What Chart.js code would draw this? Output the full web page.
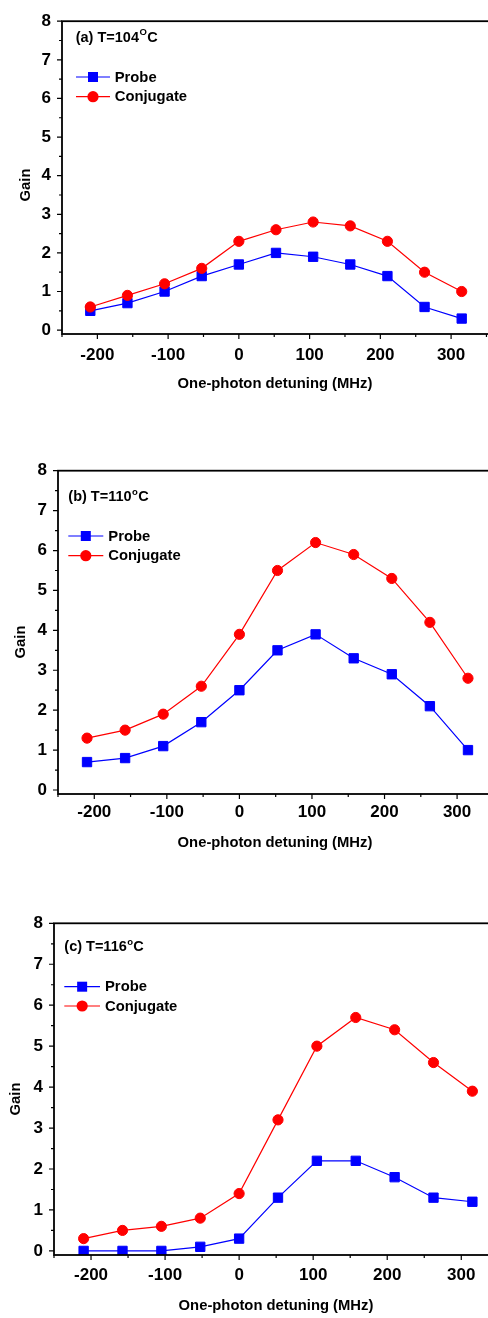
<!DOCTYPE html>
<html>
<head>
<meta charset="utf-8">
<script src="https://cdn.jsdelivr.net/npm/chart.js@4"></script>
<style>
  html, body { margin: 0; padding: 0; background: #fff; }
  body { width: 488px; height: 1318px; overflow: hidden; position: relative; }
  canvas { position: absolute; left: 0; }
</style>
</head>
<body>
<canvas id="chartA" width="510" height="440" style="top:0px"></canvas>
<canvas id="chartB" width="510" height="440" style="top:440px"></canvas>
<canvas id="chartC" width="510" height="438" style="top:880px"></canvas>
<script>
// One-photon detuning (MHz), same points in every panel
const detuning = [-210, -157.5, -105, -52.5, 0, 52.5, 105, 157.5, 210, 262.5, 315];

// (a) T=104 C
const probeA = [0.5, 0.7, 1.0, 1.4, 1.7, 2.0, 1.9, 1.7, 1.4, 0.6, 0.3];
const conjA = [0.6, 0.9, 1.2, 1.6, 2.3, 2.6, 2.8, 2.7, 2.3, 1.5, 1.0];
// (b) T=110 C
const probeB = [0.7, 0.8, 1.1, 1.7, 2.5, 3.5, 3.9, 3.3, 2.9, 2.1, 1.0];
const conjB = [1.3, 1.5, 1.9, 2.6, 3.9, 5.5, 6.2, 5.9, 5.3, 4.2, 2.8];
// (c) T=116 C
const probeC = [0.0, 0.0, 0.0, 0.1, 0.3, 1.3, 2.2, 2.2, 1.8, 1.3, 1.2];
const conjC = [0.3, 0.5, 0.6, 0.8, 1.4, 3.2, 5.0, 5.7, 5.4, 4.6, 3.9];

// Axis ticks
const xTicks = [-200, -100, 0, 100, 200, 300];
const xMinorTicks = [-250, -150, -50, 50, 150, 250, 350];
const yTicks = [0, 1, 2, 3, 4, 5, 6, 7, 8];
const yMinorTicks = [0.5, 1.5, 2.5, 3.5, 4.5, 5.5, 6.5, 7.5];

const seriesNames = ["Probe", "Conjugate"];
const panelLabels = ["(a) T=104", "(b) T=110", "(c) T=116"];
const degreeMarks = ["O", "o", "o"];
const xTitle = "One-photon detuning (MHz)";
const yTitle = "Gain";

const FONT = "'Liberation Sans', Arial, Helvetica, sans-serif";
const BLUE = "#0000ff";
const RED = "#ff0000";

// Panel placement inside each canvas (canvas-local pixels)
const panels = [
  {
    id: "chartA", probe: probeA, conj: conjA, h: 440,
    area: { left: 62, top: 14, bottom: 334, right: 490 }, tickPad: 10.8,
    note: { x: 75.7, y: 37.7 },
    legend: { x1: 76, x2: 110, y: 77, dy: 19.7, tx: 114.7 },
    yT: { x: 26, y: 185 }, xT: { x: 275, y: 384 },
  },
  {
    id: "chartB", probe: probeB, conj: conjB, h: 440,
    area: { left: 58, top: 30.7, bottom: 354, right: 497 }, tickPad: 8.5,
    note: { x: 68.3, y: 57.3 },
    legend: { x1: 68.3, x2: 103.3, y: 96, dy: 19.7, tx: 108.3 },
    yT: { x: 20.7, y: 202 }, xT: { x: 275, y: 403 },
  },
  {
    id: "chartC", probe: probeC, conj: conjC, h: 438,
    area: { left: 54, top: 43.3, bottom: 375, right: 502 }, tickPad: 9.8,
    note: { x: 64.3, y: 67.3 },
    legend: { x1: 64.3, x2: 100, y: 106.7, dy: 19.3, tx: 105 },
    yT: { x: 16, y: 219 }, xT: { x: 276, y: 426 },
  },
];

const X_SCALE_H = 30;

// Frame, minor/major tick marks, annotation, legend and axis titles
const decorPlugin = {
  id: "decor",
  afterDraw(chart) {
    const p = chart.options.plugins.decor;
    const ctx = chart.ctx;
    const a = chart.chartArea;
    const xs = chart.scales.x;
    const ys = chart.scales.y;
    ctx.save();

    // frame
    ctx.strokeStyle = "#000";
    ctx.lineWidth = 1.8;
    ctx.strokeRect(a.left, a.top, a.right - a.left, a.bottom - a.top);

    // ticks (outward on left and bottom)
    ctx.lineWidth = 1.2;
    ctx.beginPath();
    xTicks.forEach((v) => {
      const px = xs.getPixelForValue(v);
      ctx.moveTo(px, a.bottom); ctx.lineTo(px, a.bottom + 5);
    });
    xMinorTicks.forEach((v) => {
      const px = xs.getPixelForValue(v);
      ctx.moveTo(px, a.bottom); ctx.lineTo(px, a.bottom + 3);
    });
    yTicks.forEach((v) => {
      const py = ys.getPixelForValue(v);
      ctx.moveTo(a.left, py); ctx.lineTo(a.left - 5, py);
    });
    yMinorTicks.forEach((v) => {
      const py = ys.getPixelForValue(v);
      ctx.moveTo(a.left, py); ctx.lineTo(a.left - 3, py);
    });
    ctx.stroke();

    // panel annotation with superscript degree mark
    ctx.fillStyle = "#000";
    ctx.textBaseline = "middle";
    ctx.textAlign = "left";
    ctx.font = "bold 14.5px " + FONT;
    const main = panelLabels[p.index];
    ctx.fillText(main, p.note.x, p.note.y);
    let cx = p.note.x + ctx.measureText(main).width + 0.5;
    ctx.font = "bold 9.5px " + FONT;
    const sup = degreeMarks[p.index];
    ctx.fillText(sup, cx, p.note.y - 5);
    cx += ctx.measureText(sup).width + 0.3;
    ctx.font = "bold 14.5px " + FONT;
    ctx.fillText("C", cx, p.note.y);

    // legend
    const L = p.legend;
    chart.data.datasets.forEach((ds, i) => {
      const y = L.y + i * L.dy;
      const mx = (L.x1 + L.x2) / 2;
      ctx.strokeStyle = ds.borderColor;
      ctx.lineWidth = 1.2;
      ctx.beginPath();
      ctx.moveTo(L.x1, y); ctx.lineTo(L.x2, y);
      ctx.stroke();
      ctx.fillStyle = ds.borderColor;
      if (ds.pointStyle === "rect") {
        ctx.fillRect(mx - 5, y - 5, 10, 10);
      } else {
        ctx.beginPath();
        ctx.arc(mx, y, 5.6, 0, Math.PI * 2);
        ctx.fill();
      }
      ctx.fillStyle = "#000";
      ctx.font = "bold 14.8px " + FONT;
      ctx.fillText(ds.label, L.tx, y + 0.5);
    });

    // axis titles
    ctx.font = "bold 14.8px " + FONT;
    ctx.textAlign = "center";
    ctx.fillText(xTitle, p.xT.x, p.xT.y);
    ctx.save();
    ctx.translate(p.yT.x, p.yT.y);
    ctx.rotate(-Math.PI / 2);
    ctx.fillText(yTitle, 0, 0);
    ctx.restore();

    ctx.restore();
  },
};

function makeChart(p, index) {
  const toPoints = (vals) => detuning.map((x, i) => ({ x: x, y: vals[i] }));
  p.index = index;
  const ctx = document.getElementById(p.id).getContext("2d");
  return new Chart(ctx, {
    type: "line",
    data: {
      datasets: [
        {
          label: seriesNames[0],
          data: toPoints(p.probe),
          borderColor: BLUE,
          backgroundColor: BLUE,
          borderWidth: 1.2,
          pointStyle: "rect",
          pointRadius: 6.6,
          pointBorderWidth: 1,
          pointBackgroundColor: BLUE,
          pointBorderColor: BLUE,
          tension: 0,
          order: 2,
        },
        {
          label: seriesNames[1],
          data: toPoints(p.conj),
          borderColor: RED,
          backgroundColor: RED,
          borderWidth: 1.2,
          pointStyle: "circle",
          pointRadius: 5.1,
          pointBorderWidth: 1,
          pointBackgroundColor: RED,
          pointBorderColor: RED,
          tension: 0,
          order: 1,
        },
      ],
    },
    options: {
      responsive: false,
      animation: false,
      layout: {
        padding: {
          left: 0,
          top: p.area.top,
          right: 510 - p.area.right,
          bottom: p.h - p.area.bottom - X_SCALE_H,
        },
      },
      plugins: {
        legend: { display: false },
        tooltip: { enabled: false },
        decor: p,
      },
      scales: {
        x: {
          type: "linear",
          min: -250,
          max: 355,
          grid: { display: false, drawTicks: false },
          border: { display: false },
          afterBuildTicks: (scale) => {
            scale.ticks = xTicks.map((v) => ({ value: v }));
          },
          afterFit: (scale) => {
            scale.height = X_SCALE_H;
          },
          ticks: {
            autoSkip: false,
            maxRotation: 0,
            padding: p.tickPad,
            color: "#000",
            font: { family: FONT, size: 17, weight: "bold" },
            callback: (v) => String(v),
          },
        },
        y: {
          min: -0.1,
          max: 8,
          grid: { display: false, drawTicks: false },
          border: { display: false },
          afterBuildTicks: (scale) => {
            scale.ticks = yTicks.map((v) => ({ value: v }));
          },
          afterFit: (scale) => {
            scale.width = p.area.left;
          },
          ticks: {
            autoSkip: false,
            padding: 11,
            color: "#000",
            font: { family: FONT, size: 17, weight: "bold" },
            callback: (v) => String(v),
          },
        },
      },
    },
    plugins: [decorPlugin],
  });
}

panels.forEach((p, i) => makeChart(p, i));
</script>
</body>
</html>
